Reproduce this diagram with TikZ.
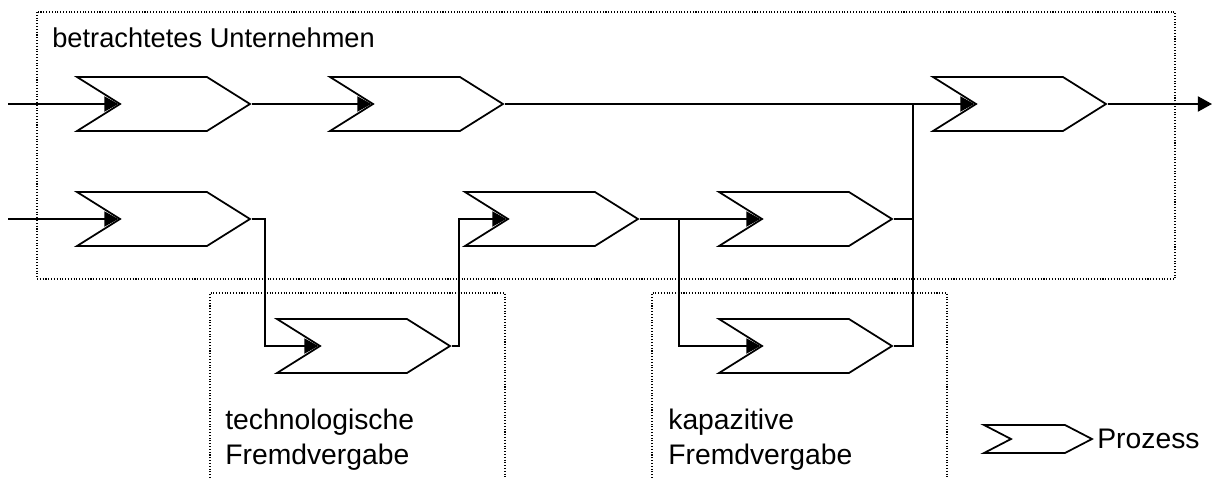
\documentclass[tikz,border=0pt]{standalone}
\usepackage{fontspec}
\setmainfont{Liberation Sans}
\usepackage{tikz}
\usetikzlibrary{shapes.symbols,arrows.meta}

\begin{document}
\begin{tikzpicture}[
	x=0.02cm, y=-0.02cm,
	font=\fontsize{16.1}{19.5}\selectfont,
	prozess/.style={
		draw, fill=white, line width=1pt,
		shape=signal, signal from=west, signal to=east,
		signal pointer angle=64.2,
		minimum width=3.46cm, minimum height=1.08cm, inner sep=0pt
	},
	legende/.style={prozess, signal pointer angle=54.8,
		minimum width=2.16cm, minimum height=0.56cm},
	flow/.style={draw, line width=1.2pt, -{Triangle[length=8pt,width=8.5pt]}},
	link/.style={draw, line width=1.2pt},
	area/.style={draw, densely dotted, line width=0.6pt},
	area label/.style={anchor=base west, align=left, inner sep=0pt}
	]
	\useasboundingbox (0,0) rectangle (1213,477);

	% Bereiche
	\draw[area] (37,12) rectangle (1175,279);
	\draw[area] (210,478) |- (505,293) -- (505,478);
	\draw[area] (652,478) |- (947,293) -- (947,478);
	\node[area label, font=\fontsize{15.5}{18}\selectfont] (unternehmen) at (52,47) {betrachtetes Unternehmen};
	\node[area label] (technologisch) at (225,464) {technologische\\Fremdvergabe};
	\node[area label] (kapazitiv) at (668,464) {kapazitive\\Fremdvergabe};

	% Prozesse
	\node[prozess] (a1) at (163.5,104) {};
	\node[prozess] (a2) at (416.5,104) {};
	\node[prozess] (a3) at (1019.5,104) {};
	\node[prozess] (b1) at (163.5,219) {};
	\node[prozess] (b2) at (551.5,219) {};
	\node[prozess] (b3) at (805.5,219) {};
	\node[prozess] (c1) at (363.5,346) {};
	\node[prozess] (c2) at (805.5,346) {};

	\coordinate (in1) at (8,104);
	\coordinate (in2) at (8,219);
	\coordinate (out) at (1212,104);
	\coordinate (split) at (679,219);
	\coordinate (merge) at (913,104);

	% Verbindungen
	\draw[flow] (in1) -- (a1.west);
	\draw[flow] (a1.east) -- (a2.west);
	\draw[flow] (a2.east) -- (a3.west);
	\draw[flow] (a3.east) -- (out);
	\draw[flow] (in2) -- (b1.west);
	\draw[flow] (b1.east) -- ++(13,0) |- (c1.west);
	\draw[flow] (c1.east) -- ++(7,0) |- (b2.west);
	\draw[flow] (b2.east) -- (b3.west);
	\draw[flow] (split) |- (c2.west);
	\draw[link] (c2.east) -| (merge);
	\draw[link] (b3.east) -- (b3.east -| merge);

	% Legende
	\node[legende] (symbol) at (1038,439) {};
	\node[anchor=base west, inner sep=0pt] (prozess) at (1097,448) {Prozess};
\end{tikzpicture}
\end{document}
